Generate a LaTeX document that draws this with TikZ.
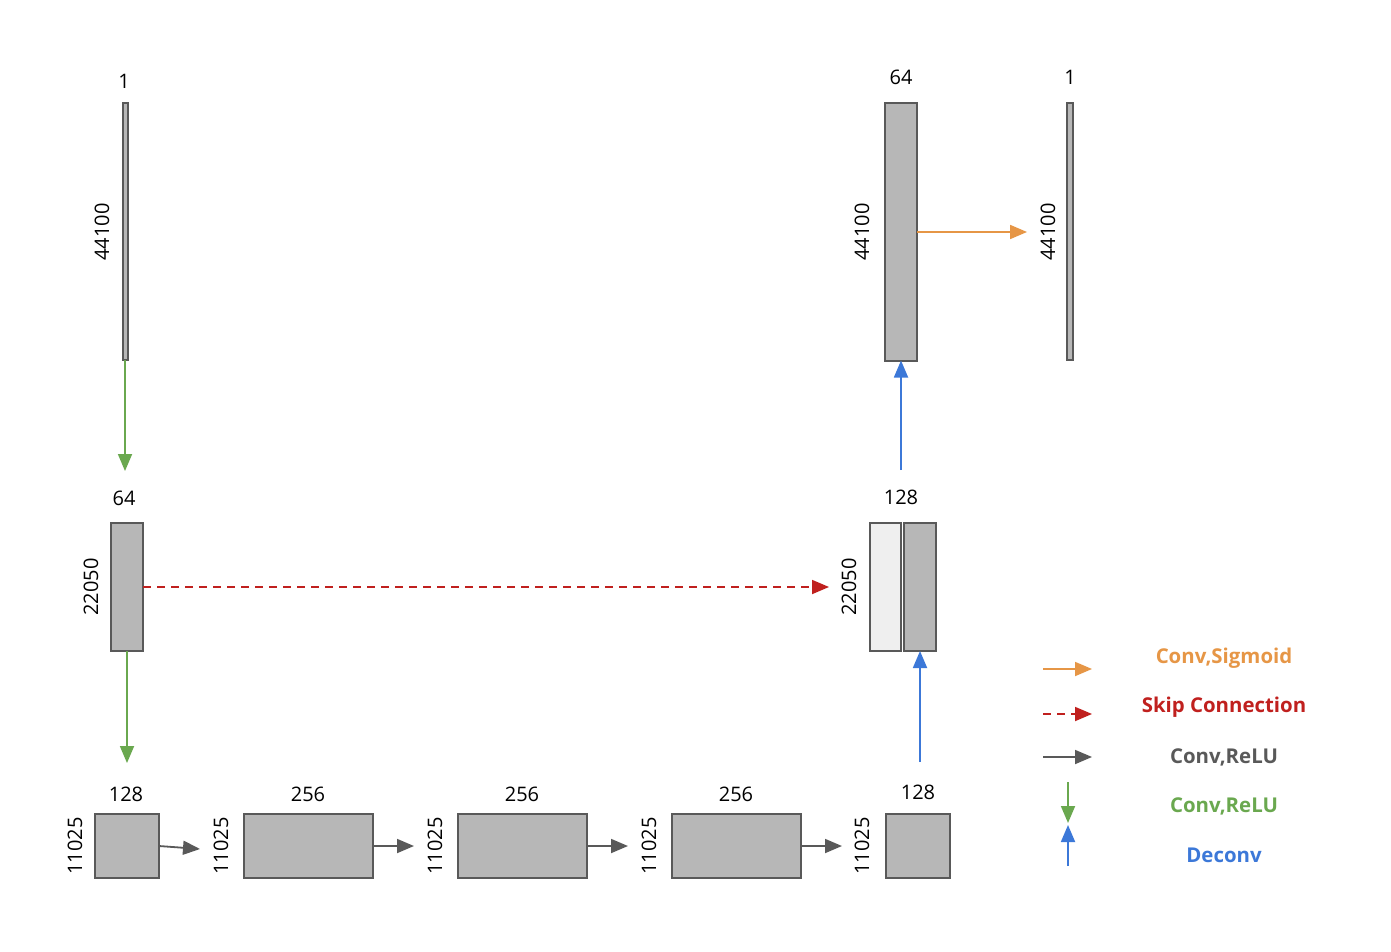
\documentclass[tikz,border=0pt]{standalone}
\usepackage{fontspec}
\setmainfont{Open Sans}
\usetikzlibrary{arrows.meta}

\definecolor{boxfill}{HTML}{B7B7B7}
\definecolor{boxlight}{HTML}{EFEFEF}
\definecolor{boxline}{HTML}{595959}
\definecolor{sigorange}{HTML}{E69646}
\definecolor{skipred}{HTML}{C0201E}
\definecolor{relugray}{HTML}{595959}
\definecolor{relugreen}{HTML}{6AA84F}
\definecolor{deconvblue}{HTML}{3C78D8}

\tikzset{
    blk/.style={draw=boxline, fill=boxfill, line width=1pt, inner sep=0pt, outer sep=0pt},
    dim/.style={font=\fontsize{10}{12}\selectfont, inner sep=0pt},
    vdim/.style={dim, rotate=90},
    conn/.style={line width=0.9pt, -{Triangle[length=8.5pt,width=7pt]}},
    legtxt/.style={font=\fontsize{10.2}{12}\selectfont\bfseries, inner sep=0pt}
}

\begin{document}
\begin{tikzpicture}[x=0.5pt, y=-0.5pt]

    \useasboundingbox (0,0) rectangle (1391,952);

    % Encoder input
    \node[blk, minimum width=2.5pt, minimum height=128.5pt] (in) at (125,231.5) {};
    \node[dim] (inw) at (124,81) {1};
    \node[vdim] (inh) at (102,232) {44100};

    % Encoder layer 1
    \node[blk, minimum width=16pt, minimum height=64pt] (enc) at (127,587) {};
    \node[dim] (encw) at (124,498) {64};
    \node[vdim] (ench) at (91,587) {22050};

    % Bottom row
    \node[blk, minimum width=32pt, minimum height=32pt] (ba) at (127,846) {};
    \node[dim] (baw) at (126,794) {128};
    \node[vdim] (bah) at (75,846) {11025};

    \node[blk, minimum width=64.5pt, minimum height=32pt] (bb) at (308.5,846) {};
    \node[dim] (bbw) at (308,794) {256};
    \node[vdim] (bbh) at (221,846) {11025};

    \node[blk, minimum width=64.5pt, minimum height=32pt] (bc) at (522.5,846) {};
    \node[dim] (bcw) at (522,794) {256};
    \node[vdim] (bch) at (435,846) {11025};

    \node[blk, minimum width=64.5pt, minimum height=32pt] (bd) at (736.5,846) {};
    \node[dim] (bdw) at (736,794) {256};
    \node[vdim] (bdh) at (649,846) {11025};

    \node[blk, minimum width=32pt, minimum height=32pt] (be) at (918,846) {};
    \node[dim] (bew) at (918,792) {128};
    \node[vdim] (beh) at (862,846) {11025};

    % Decoder layer 1 (concatenated)
    \node[blk, fill=boxlight, minimum width=15.5pt, minimum height=64pt] (deca) at (885.5,587) {};
    \node[blk, minimum width=16pt, minimum height=64pt] (decb) at (920,587) {};
    \node[dim] (decw) at (901,497) {128};
    \node[vdim] (dech) at (849,587) {22050};

    % Decoder layer 2
    \node[blk, minimum width=16pt, minimum height=128.5pt] (dec) at (901,232) {};
    \node[dim] (decw2) at (901,77) {64};
    \node[vdim] (dech2) at (862,232) {44100};

    % Output
    \node[blk, minimum width=3pt, minimum height=128.5pt] (out) at (1070,231.5) {};
    \node[dim] (outw) at (1070,77) {1};
    \node[vdim] (outh) at (1048,232) {44100};

    % Arrow ends
    \coordinate (g1) at (125,471);
    \coordinate (g2) at (127,763);
    \coordinate (r1) at (200,849);
    \coordinate (r2) at (414,846);
    \coordinate (r3) at (628,846);
    \coordinate (r4) at (842,846);
    \coordinate (u1) at (920,762);
    \coordinate (u2) at (901,470);
    \coordinate (sk) at (829,587);
    \coordinate (so) at (1027,232);

    % Connections
    \draw[conn, relugreen] (in.south) -- (g1);
    \draw[conn, relugreen] (enc.south) -- (g2);
    \draw[conn, relugray] (ba.east) -- (r1);
    \draw[conn, relugray] (bb.east) -- (r2);
    \draw[conn, relugray] (bc.east) -- (r3);
    \draw[conn, relugray] (bd.east) -- (r4);
    \draw[conn, deconvblue] (u1) -- (decb.south);
    \draw[conn, deconvblue] (u2) -- (dec.south);
    \draw[conn, skipred, dash pattern=on 4pt off 3pt] (enc.east) -- (sk);
    \draw[conn, sigorange] (dec.east) -- (so);

    % Legend
    \coordinate (la1) at (1043,669); \coordinate (lb1) at (1092,669);
    \coordinate (la2) at (1043,714); \coordinate (lb2) at (1092,714);
    \coordinate (la3) at (1043,757); \coordinate (lb3) at (1092,757);
    \coordinate (la4) at (1068,782); \coordinate (lb4) at (1068,823);
    \coordinate (la5) at (1068,866); \coordinate (lb5) at (1068,825);
    \draw[conn, sigorange] (la1) -- (lb1);
    \draw[conn, skipred, dash pattern=on 4pt off 3pt] (la2) -- (lb2);
    \draw[conn, relugray] (la3) -- (lb3);
    \draw[conn, relugreen] (la4) -- (lb4);
    \draw[conn, deconvblue] (la5) -- (lb5);
    \node[legtxt, text=sigorange] (lt1) at (1224,658) {Conv,Sigmoid};
    \node[legtxt, text=skipred] (lt2) at (1224,707) {Skip Connection};
    \node[legtxt, text=relugray] (lt3) at (1224,757) {Conv,ReLU};
    \node[legtxt, text=relugreen] (lt4) at (1224,806) {Conv,ReLU};
    \node[legtxt, text=deconvblue] (lt5) at (1224,855) {Deconv};

\end{tikzpicture}
\end{document}
